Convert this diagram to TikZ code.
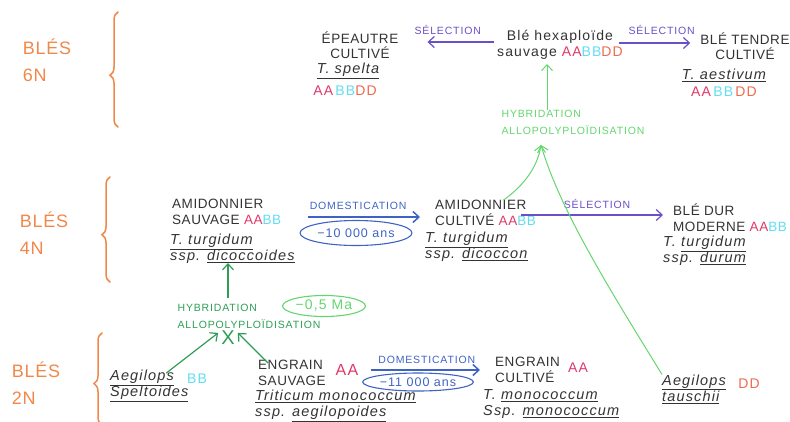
\documentclass[tikz,border=0pt]{standalone}
\usepackage{fontspec}
\setmainfont{Liberation Sans}
\newfontfamily\hand[LetterSpace=8]{Liberation Sans}
\newfontfamily\handcap[LetterSpace=4]{Liberation Sans}
\usetikzlibrary{arrows.meta,shapes.geometric,decorations.pathreplacing}

\definecolor{ink}{HTML}{333333}
\definecolor{orng}{HTML}{F0884A}
\definecolor{purp}{HTML}{6A4FC8}
\definecolor{blu}{HTML}{3F63C4}
\definecolor{dgreen}{HTML}{2E9E55}
\definecolor{lgreen}{HTML}{63D66F}
\definecolor{genA}{HTML}{E0386A}
\definecolor{genB}{HTML}{62DDF2}
\definecolor{genD}{HTML}{EE6A4E}

\newcommand\und[1]{\underline{#1}}
\newcommand\gA{\textcolor{genA}{AA}}
\newcommand\gB{\textcolor{genB}{BB}}
\newcommand\gD{\textcolor{genD}{DD}}

\begin{document}
\begin{tikzpicture}[x=1pt,y=-1pt,
  captxt/.style={font=\handcap\fontsize{13.5}{16}\selectfont, text=ink, inner sep=0pt, align=left},
  captxtc/.style={captxt, align=center, font=\handcap\fontsize{13.5}{14.5}\selectfont},
  spctxt/.style={font=\hand\itshape\fontsize{14.5}{16}\selectfont, text=ink, inner sep=0pt, align=left},
  genome/.style={font=\hand\fontsize{14}{16}\selectfont, inner sep=0pt},
  lab/.style={font=\hand\fontsize{10.5}{17}\selectfont, inner sep=0pt, align=left},
  grp/.style={font=\handcap\fontsize{18}{27}\selectfont, text=orng, inner sep=0pt, align=left},
  brc/.style={draw=orng, line width=1.5pt, line cap=round, decorate,
              decoration={brace, amplitude=8pt, aspect=0.45}},
  barb/.style={-{Straight Barb[length=6pt,width=11pt]}},
  parrow/.style={barb, draw=purp, line width=1.2pt},
  barrow/.style={barb, draw=blu, line width=1.5pt},
  garrow/.style={barb, draw=dgreen, line width=1.2pt},
  larrow/.style={barb, draw=lgreen, line width=1pt},
  agebox/.style={ellipse, draw, line width=1.1pt, inner xsep=1pt, inner ysep=0pt,
              font=\hand\fontsize{12.5}{14}\selectfont}]
\useasboundingbox (0,0) rectangle (790,421);

% ploidy groups and their braces
\node[grp] (g6) at (47,60) {BLÉS\\6N};
\node[grp] (g4) at (44,233) {BLÉS\\4N};
\node[grp] (g2) at (36,383) {BLÉS\\2N};
\draw[brc] (118,127) -- (118,12);
\draw[brc] (110,282) -- (110,177);
\draw[brc] (102,425) -- (102,333);

% hexaploid row
\node[captxtc] (ep) at (360,45) {ÉPEAUTRE\\CULTIVÉ};
\node[spctxt] (epsp) at (348,71) {\und{T. spelta}};
\node[genome] (epg) at (345,91) {\gA\,\gB\gD};

\node[font=\hand\fontsize{14}{16}\selectfont, text=ink, inner sep=0pt, align=center]
  (hex) at (560,45) {Blé hexaploïde\\sauvage \gA\gB\gD};

\node[captxtc] (bt) at (745,46) {BLÉ TENDRE\\CULTIVÉ};
\node[spctxt] (btsp) at (724,75) {\und{T. aestivum}};
\node[genome] (btg) at (724,92) {\gA\,\gB\,\gD};

\draw[parrow, shorten <=3pt, shorten >=29pt] ([yshift=3pt]hex.west) -- ([yshift=3pt]hex.west -| ep.east)
  node[midway, above=7pt, lab, text=purp] (ls1) {SÉLECTION};
\draw[parrow, shorten <=-4pt, shorten >=10pt] ([yshift=2pt]hex.east) -- ([yshift=2pt]hex.east -| bt.west)
  node[midway, above=8pt, lab, text=purp] (ls2) {SÉLECTION};

\node[lab, text=lgreen] (hyb6) at (573,122) {HYBRIDATION\\ALLOPOLYPLOÏDISATION};
\coordinate (hexin) at (547,64);
\coordinate (hybin) at (541,145);
\draw[larrow] (hyb6.north -| hexin) -- (hexin);

% tetraploid row
\node[captxt, anchor=west] (as) at (172,212) {AMIDONNIER\\SAUVAGE \gA\gB};
\node[spctxt, anchor=west] (assp) at (170,249) {\und{T. turgidum}\\ssp. \und{dicoccoides}};

\node[captxt, anchor=west] (ac) at (435,213) {AMIDONNIER\\CULTIVÉ \gA\gB};
\node[spctxt, anchor=west] (acsp) at (425,247) {\und{T. turgidum}\\ssp. \und{dicoccon}};

\node[captxt, anchor=west] (bd) at (673,218) {BLÉ DUR\\MODERNE \gA\gB};
\node[spctxt, anchor=west] (bdsp) at (663,251) {T. \und{turgidum}\\ssp. \und{durum}};

\draw[barrow, shorten <=27pt, shorten >=15pt] ([yshift=-5pt]as.east) -- ([yshift=-5pt]as.east -| ac.west)
  node[midway, above=7pt, lab, text=blu] (ld1) {DOMESTICATION};
\node[agebox, draw=blu, text=blu, minimum width=100pt, minimum height=25pt] (a1) at (356,233) {−10 000 ans};

\draw[parrow, shorten >=10pt] ([xshift=-15pt, yshift=-2pt]ac.east) -- ([yshift=-2pt]ac.east -| bd.west)
  node[midway, above=6pt, lab, text=purp] (ls3) {SÉLECTION};

% tetraploid to hexaploid
\node[spctxt, anchor=west] (tau) at (662,389) {\und{Aegilops}\\\und{tauschii}};
\node[genome, text=genD] (taug) at (749,384) {DD};
\draw[larrow] ([xshift=18pt]ac.north) .. controls ([xshift=35pt, yshift=12pt]ac.north) and (537,170) .. (hybin);
\draw[larrow] (tau.north west) .. controls (610,290) and (560,210) .. (hybin);

% diploid row
\node[lab, text=dgreen] (hyb4) at (249,316) {HYBRIDATION\\ALLOPOLYPLOÏDISATION};
\node[agebox, draw=lgreen, text=lgreen, font=\hand\fontsize{14}{15}\selectfont,
      minimum width=80pt, minimum height=21pt] (a4) at (324,306) {−0,5 Ma};
\coordinate (asin) at (228,263);
\draw[garrow] (228,298) -- (asin);
\node[font=\fontsize{20}{20}\selectfont, text=dgreen, inner sep=0pt] (x4) at (228,338) {X};

\node[spctxt, anchor=west] (aeg) at (110,386) {\und{Aegilops}\\\und{Speltoides}};
\node[genome, text=genB] (aegg) at (197,379) {BB};

\node[captxt, anchor=west] (es) at (258,373) {ENGRAIN\\SAUVAGE};
\node[genome, text=genA, font=\hand\fontsize{16}{16}\selectfont] (esg) at (347,370) {AA};
\node[spctxt, anchor=west] (essp) at (255,406) {\und{Triticum monococcum}\\ssp. \und{aegilopoides}};

\node[captxt, anchor=west] (ec) at (495,370) {ENGRAIN\\CULTIVÉ};
\node[genome, text=genA] (ecg) at (578,368) {AA};
\node[spctxt, anchor=west] (ecsp) at (483,404) {T. \und{monococcum}\\Ssp. \und{monococcum}};

\draw[garrow] ([xshift=17pt, yshift=-3pt]aeg.north) -- ([xshift=-3pt, yshift=-2pt]x4.north west);
\draw[garrow] ([xshift=10pt, yshift=-3pt]es.north west) -- ([xshift=3pt, yshift=-2pt]x4.north east);

\draw[barrow, shorten <=12pt, shorten >=15pt] (esg.east) -- (esg.east -| ec.west)
  node[midway, above=6pt, lab, text=blu] (ld2) {DOMESTICATION};
\node[agebox, draw=blu, text=blu, minimum width=104pt, minimum height=18pt] (a2) at (418,382) {−11 000 ans};
\end{tikzpicture}
\end{document}
